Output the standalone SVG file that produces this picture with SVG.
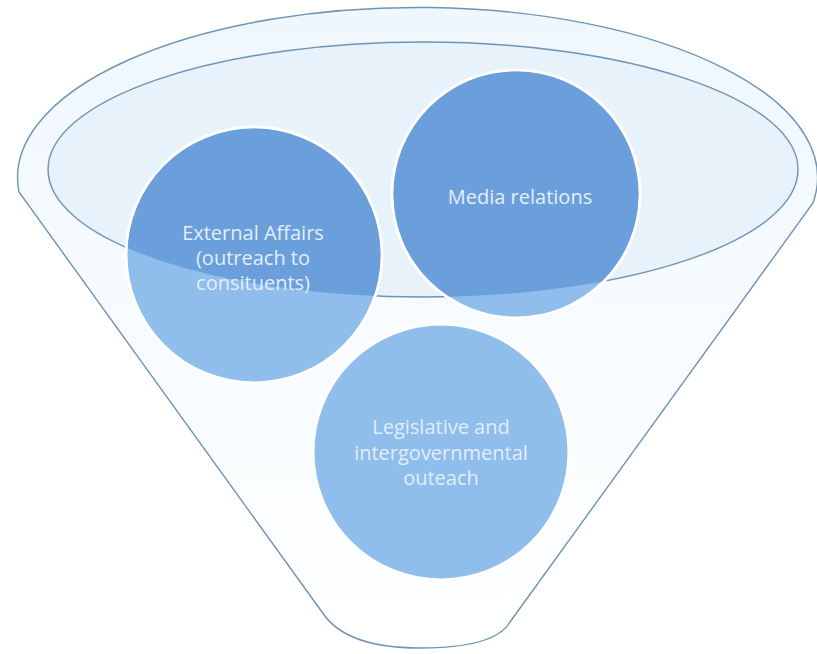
<svg xmlns="http://www.w3.org/2000/svg" width="817" height="654" viewBox="0 0 817 654">
  <style>
    .outline { stroke: #6f93b5; stroke-width: 1.4; }
    .light { fill: #8fbdec; stroke: #ffffff; stroke-width: 3; }
    .dark { fill: #6b9fdb; }
    .label { font-family: "Open Sans", "Liberation Sans", sans-serif; font-size: 20px; fill: #e3eefa; text-anchor: middle; }
  </style>
  <defs>
    <linearGradient id="bodyGrad" x1="0" y1="0" x2="0" y2="1">
      <stop offset="0" stop-color="#eff7fd"/>
      <stop offset="0.45" stop-color="#f6fbfe"/>
      <stop offset="1" stop-color="#ffffff"/>
    </linearGradient>
    <clipPath id="topClip">
      <ellipse cx="423" cy="169.5" rx="375" ry="127.5"/>
    </clipPath>
  </defs>
  <rect width="817" height="654" fill="#ffffff"/>
  <g id="funnel">
    <path class="outline" fill="url(#bodyGrad)" d="M 19,192 A 400 170 0 1 1 813,203 L 510,622 Q 495,648 420,648 Q 345,648 322,612 Z"/>
    <ellipse class="outline" cx="423" cy="169.5" rx="375" ry="127.5" fill="#e7f2fb"/>
  </g>
  <g id="node-external">
    <circle class="light" cx="254" cy="255" r="128"/>
    <circle class="dark" cx="254" cy="255" r="126.5" clip-path="url(#topClip)"/>
    <text class="label" x="253" y="240">External Affairs</text>
    <text class="label" x="253" y="265">(outreach to</text>
    <text class="label" x="253" y="290">consituents)</text>
  </g>
  <g id="node-media">
    <circle class="light" cx="516" cy="194" r="124"/>
    <circle class="dark" cx="516" cy="194" r="122.5" clip-path="url(#topClip)"/>
    <text class="label" x="520" y="204">Media relations</text>
  </g>
  <g id="node-legislative">
    <circle class="light" cx="441" cy="452" r="128"/>
    <text class="label" x="441" y="434">Legislative and</text>
    <text class="label" x="441" y="460">intergovernmental</text>
    <text class="label" x="441" y="485">outeach</text>
  </g>
</svg>
